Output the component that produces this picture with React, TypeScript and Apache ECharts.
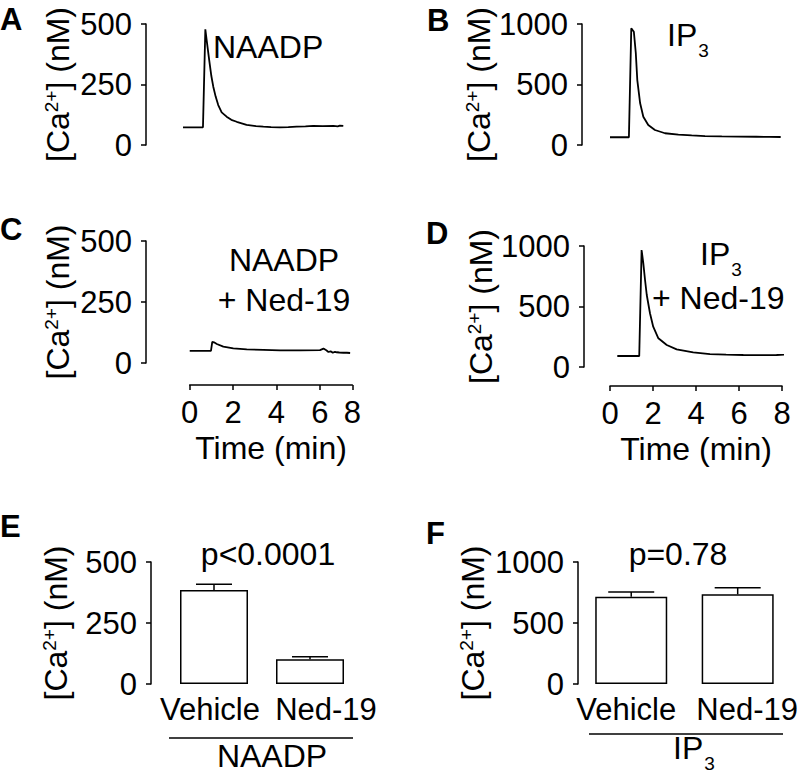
import React, { useEffect, useRef } from 'react';
import * as echarts from 'echarts';

// ---------- data ----------
// A: NAADP trace (time in min, [Ca2+] in nM)
const aTime = [0, 0.93, 1.04, 1.1, 1.22, 1.32, 1.41, 1.52, 1.64, 1.8, 2.03, 2.25, 2.5, 2.96, 3.4, 3.74, 4.1, 4.51, 4.9, 5.29, 5.7, 6.06, 6.5, 7.0, 7.2, 7.3, 7.46];
const aCa = [73, 73, 478, 434, 351, 285, 241, 200, 165, 135, 117, 104, 96, 83, 78, 76, 74, 73, 74, 76, 77, 79, 78, 79, 77, 80, 79];
// B: IP3 trace
const bTime = [0, 0.88, 0.99, 1.11, 1.2, 1.27, 1.4, 1.55, 1.78, 2.09, 2.56, 3.18, 3.8, 4.42, 5.2, 5.97, 6.8, 7.4, 7.94];
const bCa = [64, 64, 964, 936, 760, 537, 347, 234, 165, 124, 97, 85, 79, 74, 71, 69, 68, 67, 66];
// C: NAADP + Ned-19 trace
const cTime = [0, 0.98, 1.04, 1.12, 1.25, 1.55, 2.01, 2.63, 3.4, 4.17, 5.1, 6.01, 6.17, 6.3, 6.4, 6.5, 6.6, 6.7, 6.78, 6.9, 7.09, 7.25, 7.4];
const cCa = [50, 50, 87, 85, 78, 67, 60, 56, 54, 52, 52, 53, 59, 52, 45, 48, 42, 46, 44, 43, 42, 42, 41];
// D: IP3 + Ned-19 trace
const dTime = [0.34, 1.36, 1.47, 1.55, 1.63, 1.71, 1.86, 2.01, 2.25, 2.64, 3.1, 3.87, 4.65, 5.4, 6.2, 7.0, 7.75, 8.1, 8.37];
const dCa = [91, 91, 967, 857, 719, 595, 444, 333, 237, 182, 146, 121, 107, 102, 99, 98, 99, 103, 112];

// time axis ticks of panel C (as printed)
const cTimeTicks = [0, 2, 4, 6, 7.5];
const cTimeTickLabels = ['0', '2', '4', '6', '8'];

// E / F: peak [Ca2+] bar charts (mean, SEM)
const barCategories = ['Vehicle', 'Ned-19'];
const naadpMean = [385, 101];
const naadpSem = [24, 11];
const ip3Mean = [716, 735];
const ip3Sem = [38, 54];

// ---------- styling ----------
const FONT = '"Liberation Sans", Arial, Helvetica, sans-serif';
const FS = 31;
const BLACK = '#000';
const AXLINE = { show: true, onZero: false, lineStyle: { color: BLACK, width: 1.5 } };
const AXTICK = { show: true, length: 5, inside: false, lineStyle: { color: BLACK, width: 1.5 } };

function yAx(gridIndex: number, max: number, nameGap: number) {
  return {
    type: 'value',
    gridIndex,
    min: 0,
    max,
    interval: max / 2,
    axisLine: AXLINE,
    axisTick: AXTICK,
    axisLabel: { color: BLACK, fontSize: FS, fontFamily: FONT, margin: 14, formatter: (v: number) => String(v) },
    splitLine: { show: false },
    name: '[Ca{s|2+}] (nM)',
    nameLocation: 'middle',
    nameRotate: 90,
    nameGap,
    nameTextStyle: {
      color: BLACK,
      fontSize: 32,
      fontFamily: FONT,
      rich: { s: { fontSize: 19, fontFamily: FONT, color: BLACK, verticalAlign: 'top' } },
    },
  };
}

function hidden(gridIndex: number, min: number, max: number) {
  return { type: 'value', gridIndex, min, max, show: false, splitLine: { show: false }, axisLine: { show: false, onZero: false } };
}

function timeX(gridIndex: number, max: number, extra: any) {
  return {
    type: 'value',
    gridIndex,
    min: 0,
    max,
    axisLine: AXLINE,
    axisTick: { ...AXTICK, ...(extra.tick || {}) },
    axisLabel: { color: BLACK, fontSize: FS, fontFamily: FONT, margin: 12, formatter: (v: number) => String(v), ...(extra.label || {}) },
    splitLine: { show: false },
    name: 'Time (min)',
    nameLocation: 'middle',
    nameGap: 47,
    nameTextStyle: { color: BLACK, fontSize: 32, fontFamily: FONT },
    ...(extra.axis || {}),
  };
}

function catX(gridIndex: number, shifts: number[][]) {
  return {
    type: 'category',
    gridIndex,
    data: barCategories.map((c, i) => ({ value: c, textStyle: { padding: shifts[i] } })),
    axisLine: { show: false, onZero: false },
    axisTick: { show: false },
    axisLabel: { color: BLACK, fontSize: FS, fontFamily: FONT, margin: 10, interval: 0 },
    splitLine: { show: false },
  };
}

function trace(idx: number, t: number[], v: number[]) {
  return {
    type: 'line',
    xAxisIndex: idx,
    yAxisIndex: idx,
    data: t.map((x, i) => [x, v[i]]),
    showSymbol: false,
    symbol: 'none',
    clip: false,
    lineStyle: { color: BLACK, width: 1.8 },
    silent: true,
  };
}

function bars(idx: number, means: number[], width: number) {
  return {
    type: 'bar',
    xAxisIndex: idx,
    yAxisIndex: idx,
    data: means,
    barWidth: width,
    itemStyle: { color: '#fff', borderColor: BLACK, borderWidth: 1.5 },
    silent: true,
    z: 2,
  };
}

function errBars(idx: number, means: number[], sems: number[], capHalf: number) {
  return {
    type: 'custom',
    xAxisIndex: idx,
    yAxisIndex: idx,
    data: means.map((m, i) => [i, m, m + sems[i]]),
    encode: { x: 0, y: [1, 2] },
    z: 3,
    silent: true,
    renderItem: (_p: any, api: any) => {
      const base = api.coord([api.value(0), api.value(1)]);
      const top = api.coord([api.value(0), api.value(2)]);
      const st = { stroke: BLACK, lineWidth: 1.5 };
      return {
        type: 'group',
        children: [
          { type: 'line', shape: { x1: base[0], y1: base[1], x2: top[0], y2: top[1] }, style: st },
          { type: 'line', shape: { x1: top[0] - capHalf, y1: top[1], x2: top[0] + capHalf, y2: top[1] }, style: st },
        ],
      };
    },
  };
}

function txt(text: string, x: number, y: number, opts: any = {}) {
  return {
    type: 'text',
    x,
    y,
    silent: true,
    style: {
      text,
      fill: BLACK,
      fontSize: opts.fontSize || 32,
      fontFamily: FONT,
      fontWeight: opts.bold ? 'bold' : 'normal',
      align: opts.align || 'left',
      verticalAlign: opts.va || 'middle',
      rich: opts.rich,
    },
  };
}

const ip3Rich = {
  m: { fontSize: 32, fontFamily: FONT, fill: BLACK, verticalAlign: 'top', lineHeight: 32 },
  sub: { fontSize: 19, fontFamily: FONT, fill: BLACK, verticalAlign: 'top', lineHeight: 14, padding: [22, 0, 0, 1] },
};

function hline(x1: number, x2: number, y: number) {
  return { type: 'line', silent: true, shape: { x1, y1: y, x2, y2: y }, style: { stroke: BLACK, lineWidth: 1.5 } };
}

export default function App() {
  const ref = useRef<HTMLDivElement>(null);
  useEffect(() => {
    document.body.style.margin = '0';
    if (!ref.current) return;
    const chart = echarts.init(ref.current, null, { renderer: 'svg' });
    const option: any = {
      animation: false,
      backgroundColor: '#fff',
      textStyle: { fontFamily: FONT, color: BLACK },
      grid: [
        { left: 146, top: 24, width: 197.3, height: 121 }, // 0 A
        { left: 582, top: 24, width: 198.7, height: 121 }, // 1 B
        { left: 146, top: 241, width: 206.3, height: 122 }, // 2 C
        { left: 584, top: 246, width: 198, height: 121 }, // 3 D
        { left: 166, top: 562, width: 192, height: 122 }, // 4 E bars
        { left: 578, top: 562, width: 217, height: 122 }, // 5 F
        { left: 189.7, top: 241, width: 162.6, height: 144 }, // 6 C time axis
        { left: 610, top: 246, width: 172, height: 140 }, // 7 D time axis
        { left: 151, top: 562, width: 10, height: 122 }, // 8 E y axis
      ],
      xAxis: [
        hidden(0, -1.721, 7.46),
        hidden(1, -1.302, 7.94),
        hidden(2, -2.017, 7.5),
        hidden(3, -1.209, 8),
        catX(4, [[0, 8, 0, 0], [0, 0, 0, 32]]),
        catX(5, [[0, 10, 0, 0], [0, 0, 0, 19]]),
        timeX(6, 7.5, {
          tick: { customValues: cTimeTicks },
          label: {
            customValues: cTimeTicks,
            formatter: (v: number) => cTimeTickLabels[cTimeTicks.indexOf(v)] ?? String(v),
          },
        }),
        timeX(7, 8, { axis: { interval: 2 } }),
        hidden(8, 0, 1),
      ],
      yAxis: [
        yAx(0, 500, 72),
        yAx(1, 1000, 84),
        yAx(2, 500, 72),
        yAx(3, 1000, 84),
        hidden(4, 0, 500),
        yAx(5, 1000, 89),
        hidden(6, 0, 1),
        hidden(7, 0, 1),
        yAx(8, 500, 79),
      ],
      series: [
        trace(0, aTime, aCa),
        trace(1, bTime, bCa),
        trace(2, cTime, cCa),
        trace(3, dTime, dCa),
        bars(4, naadpMean, 68),
        errBars(4, naadpMean, naadpSem, 18),
        bars(5, ip3Mean, 72),
        errBars(5, ip3Mean, ip3Sem, 23),
      ],
      graphic: [
        // panel letters
        txt('A', 0, 19, { bold: true, fontSize: 31 }),
        txt('B', 427, 20, { bold: true, fontSize: 31 }),
        txt('C', 0, 229, { bold: true, fontSize: 31 }),
        txt('D', 426, 233, { bold: true, fontSize: 31 }),
        txt('E', 0, 526, { bold: true, fontSize: 31 }),
        txt('F', 426, 533, { bold: true, fontSize: 31 }),
        // annotations
        txt('NAADP', 213, 47),
        txt('{m|IP}{sub|3}', 667, 19, { va: 'top', rich: ip3Rich }),
        txt('NAADP', 284, 260, { align: 'center' }),
        txt('+ Ned-19', 284, 300, { align: 'center' }),
        txt('{m|IP}{sub|3}', 700, 238, { va: 'top', rich: ip3Rich }),
        txt('+ Ned-19', 652, 298),
        txt('p<0.0001', 268, 554, { align: 'center' }),
        txt('p=0.78', 678, 554, { align: 'center' }),
        hline(169, 353, 738),
        txt('NAADP', 272, 756, { align: 'center' }),
        hline(589, 783, 734),
        txt('{m|IP}{sub|3}', 673, 732, { va: 'top', rich: ip3Rich }),
      ],
    };
    chart.setOption(option);
    return () => chart.dispose();
  }, []);
  return <div ref={ref} style={{ width: 800, height: 777 }} />;
}
